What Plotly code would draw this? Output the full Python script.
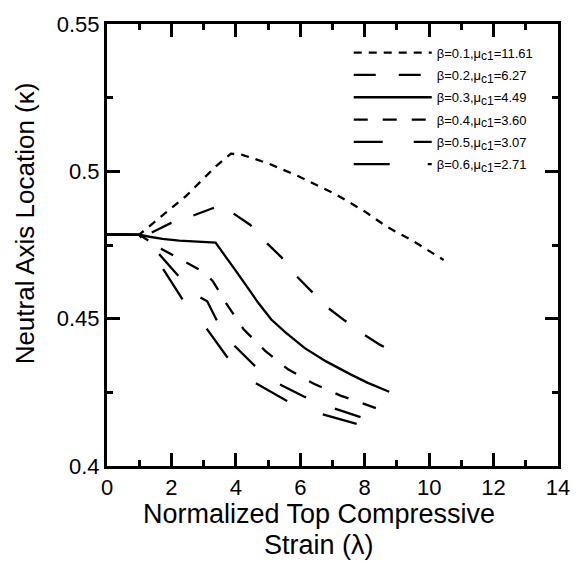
import plotly.graph_objects as go

# ---- data ----
lam_b01 = [0, 1.0, 2.46, 3.38, 3.85, 4.2, 5.0, 5.93, 7.07, 8.0, 8.7, 9.53, 10.45]
kap_b01 = [0.4785, 0.4785, 0.4917, 0.5017, 0.506, 0.5056, 0.5027, 0.4984, 0.4924, 0.4864, 0.4811, 0.4762, 0.4699]

lam_b02 = [0, 1.0, 1.38, 1.99, 2.70, 3.31, 3.55, 3.87, 4.45, 4.91, 5.41, 5.87, 6.33, 6.82, 7.34, 7.96, 8.48, 9.16]
kap_b02 = [0.4785, 0.4785, 0.4792, 0.4825, 0.4851, 0.4878, 0.4886, 0.4861, 0.4818, 0.4762, 0.4709, 0.4646, 0.4596, 0.454, 0.4497, 0.4447, 0.4411, 0.4375]

lam_b03 = [0, 1.0, 1.32, 1.72, 2.24, 2.76, 3.37, 4.0, 4.7, 5.1, 5.53, 6.14, 6.8, 7.56, 8.08, 8.76]
kap_b03 = [0.4785, 0.4785, 0.4778, 0.4771, 0.4765, 0.4762, 0.4758, 0.4662, 0.4553, 0.4497, 0.4454, 0.4400, 0.4355, 0.4311, 0.4283, 0.4252]

lam_b04 = [0, 1.0, 1.72, 2.54, 3.05, 3.3, 3.71, 4.24, 4.91, 5.62, 6.42, 7.25, 8.14, 8.54]
kap_b04 = [0.4785, 0.4785, 0.4735, 0.4686, 0.4655, 0.4625, 0.455, 0.4464, 0.4391, 0.4328, 0.4279, 0.4239, 0.4206, 0.4189]

lam_b05 = [0, 1.0, 1.62, 2.21, 2.9, 3.11, 3.39, 3.93, 4.58, 5.34, 6.11, 7.04, 7.87]
kap_b05 = [0.4785, 0.4785, 0.4719, 0.4646, 0.4572, 0.4559, 0.4498, 0.4411, 0.4341, 0.4278, 0.4236, 0.4196, 0.4166]

lam_b06 = [0, 1.0, 1.78, 2.36, 3.07, 3.72, 4.6, 5.56, 6.67, 7.75]
kap_b06 = [0.4785, 0.4785, 0.4662, 0.4563, 0.447, 0.4371, 0.4282, 0.4222, 0.4176, 0.4143]

SUB = '<sub><span style="font-size:12px">c1</span></sub>'
series_names = [
    "β=0.1,μ" + SUB + "=11.61",
    "β=0.2,μ" + SUB + "=6.27",
    "β=0.3,μ" + SUB + "=4.49",
    "β=0.4,μ" + SUB + "=3.60",
    "β=0.5,μ" + SUB + "=3.07",
    "β=0.6,μ" + SUB + "=2.71",
]
series_lam = [lam_b01, lam_b02, lam_b03, lam_b04, lam_b05, lam_b06]
series_kap = [kap_b01, kap_b02, kap_b03, kap_b04, kap_b05, kap_b06]
series_dash = ["8px,7px", "22px,23px", "solid", "14px,15px", "29px,31px", "36px,38px"]

x_title_lines = ["Normalized Top Compressive", "Strain (λ)"]
y_title = "Neutral Axis Location (κ)"

FONT = "Liberation Sans, Arial, sans-serif"

fig = go.Figure()
for i, (nm, lx, ky, ds) in enumerate(zip(series_names, series_lam, series_kap, series_dash)):
    fig.add_trace(go.Scatter(
        x=lx, y=ky, mode="lines", name=nm, legendgroup=f"g{i}",
        line=dict(color="black", width=2.3, dash=ds),
    ))

axis_common = dict(
    showgrid=False, zeroline=False, showline=True, linecolor="black", linewidth=3,
    mirror="allticks", ticks="inside", tickcolor="black", tickwidth=2.5, ticklen=13,
    tickfont=dict(family=FONT, size=22, color="black"),
    tickmode="linear",
)

fig.update_xaxes(
    range=[0, 14], tick0=0, dtick=2,
    minor=dict(tick0=0, dtick=1, ticks="inside", ticklen=6, tickwidth=2.5, tickcolor="black"),
    **axis_common,
)
fig.update_yaxes(
    range=[0.4, 0.55], tick0=0.4, dtick=0.05,
    minor=dict(tick0=0.4, dtick=0.025, ticks="inside", ticklen=6, tickwidth=2.5, tickcolor="black"),
    **axis_common,
)

fig.add_annotation(text=x_title_lines[0], xref="paper", yref="paper", x=0.47, y=-0.1084,
                   xanchor="center", yanchor="middle", showarrow=False,
                   font=dict(family=FONT, size=27, color="black"))
fig.add_annotation(text=x_title_lines[1], xref="paper", yref="paper", x=0.47, y=-0.179,
                   xanchor="center", yanchor="middle", showarrow=False,
                   font=dict(family=FONT, size=27, color="black"))
fig.add_annotation(text=y_title, xref="paper", yref="paper", x=-0.183, y=0.55,
                   xanchor="center", yanchor="middle", showarrow=False, textangle=-90,
                   font=dict(family=FONT, size=26, color="black"))

fig.update_layout(
    width=582, height=565,
    margin=dict(l=107, r=20, t=14, b=99),
    paper_bgcolor="white", plot_bgcolor="white",
    font=dict(family=FONT, color="black"),
    legend=dict(
        x=0.536, y=0.969, xanchor="left", yanchor="top",
        bgcolor="rgba(0,0,0,0)", borderwidth=0,
        font=dict(family=FONT, size=13, color="black"),
        itemwidth=78, tracegroupgap=2.4,
    ),
)

fig.write_html("out.html")
